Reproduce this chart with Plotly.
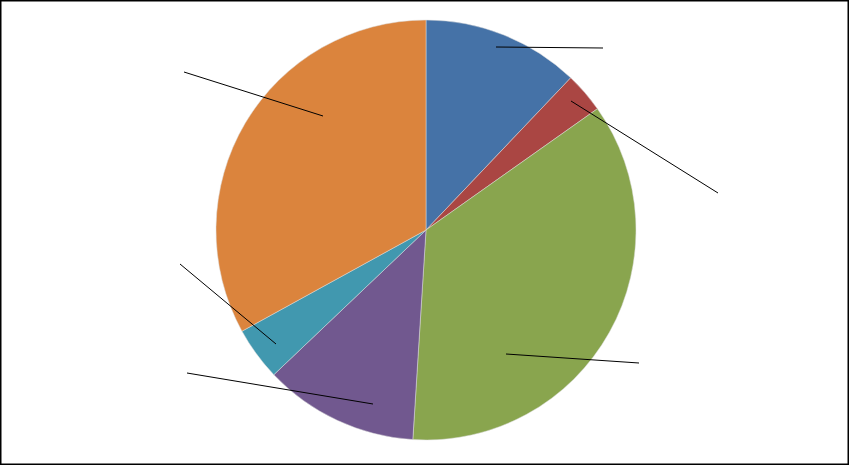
import plotly.graph_objects as go

# slice values (percent), clockwise from 12 o'clock
categories = ["Series 1", "Series 2", "Series 3", "Series 4", "Series 5", "Series 6"]
values = [12.1, 3.1, 35.8, 11.9, 4.1, 33.0]
colors = ["#4572A7", "#AA4643", "#89A54E", "#71588F", "#4198AF", "#DB843D"]

# leader lines of the (empty) data labels, in pixels: inner end, outer end
leader_inner = [(496, 47), (571, 101), (506, 354), (373, 404), (276, 344), (323, 116)]
leader_outer = [(603, 48), (718, 193), (639, 363), (187, 373), (180, 264), (184, 72)]

W, H = 849, 465

fig = go.Figure(go.Pie(
    labels=categories,
    values=values,
    sort=False,
    direction="clockwise",
    rotation=0,
    textinfo="none",
    marker=dict(colors=colors, line=dict(color="#dddddd", width=0.5)),
    domain=dict(x=[216 / W, 636 / W], y=[1 - 440 / H, 1 - 20 / H]),
    showlegend=False,
))

shapes = []
for (x0, y0), (x1, y1) in zip(leader_inner, leader_outer):
    shapes.append(dict(type="line", xref="paper", yref="paper",
                       x0=x0 / W, y0=1 - y0 / H, x1=x1 / W, y1=1 - y1 / H,
                       line=dict(color="black", width=1)))
# chart border
shapes.append(dict(type="rect", xref="paper", yref="paper",
                   x0=0, y0=0, x1=1, y1=1, line=dict(color="black", width=3)))

fig.update_layout(
    width=W, height=H,
    margin=dict(l=0, r=0, t=0, b=0),
    paper_bgcolor="white",
    shapes=shapes,
)

fig.write_html("out.html", config={"displayModeBar": False})

# drop the browser's default body margin so the figure sits at 0,0
with open("out.html", encoding="utf-8") as f:
    html = f.read()
html = html.replace("<body>", '<body style="margin:0;overflow:hidden">', 1)
with open("out.html", "w", encoding="utf-8") as f:
    f.write(html)
